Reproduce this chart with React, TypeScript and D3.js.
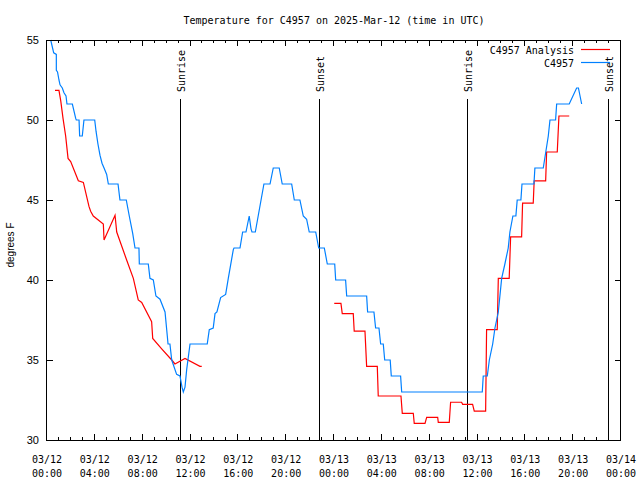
import React from "react";
import * as d3 from "d3";

// Hours since 2025-03-12 00:00 UTC
const blueHours = [0.31, 0.56, 0.78, 0.78, 0.88, 1.0, 1.09, 1.28, 1.42, 1.59, 1.67, 2.12, 2.4, 2.45, 2.68, 2.73, 2.95, 3.09, 3.99, 4.1, 4.26, 4.43, 4.6, 4.77, 4.99, 5.13, 5.94, 6.1, 6.63, 6.88, 7.17, 7.36, 7.69, 7.72, 8.47, 8.61, 8.89, 9.11, 9.45, 9.87, 10.06, 10.12, 10.28, 10.43, 10.84, 11.12, 11.29, 11.4, 11.54, 11.68, 11.96, 13.4, 13.57, 13.9, 14.05, 14.21, 14.52, 14.94, 15.16, 15.58, 15.64, 16.14, 16.36, 16.64, 16.91, 17.06, 17.14, 17.42, 18.14, 18.65, 18.92, 19.42, 19.67, 20.46, 20.68, 21.15, 21.43, 21.71, 21.93, 22.47, 22.72, 23.19, 23.44, 24.06, 24.14, 24.97, 25.06, 26.73, 26.81, 27.34, 27.48, 27.76, 27.9, 28.12, 28.24, 28.7, 28.79, 29.57, 29.66, 36.4, 36.48, 36.82, 36.99, 37.27, 37.46, 37.74, 38.02, 38.29, 38.57, 38.71, 38.96, 39.21, 39.32, 39.63, 39.72, 40.72, 40.8, 41.5, 41.92, 42.06, 42.53, 42.62, 43.67, 44.29, 44.44, 44.71];
const blueTemps = [55.0, 54.2, 54.1, 53.1, 53.0, 52.5, 52.2, 52.0, 51.7, 51.5, 51.0, 51.0, 50.1, 50.0, 50.0, 49.0, 49.0, 50.0, 50.0, 49.3, 48.5, 47.8, 47.3, 47.0, 46.6, 46.0, 46.0, 45.0, 45.0, 44.0, 42.9, 42.0, 42.0, 41.0, 41.0, 40.1, 40.0, 39.0, 38.8, 38.0, 36.5, 36.0, 36.0, 35.0, 34.1, 34.0, 33.3, 33.0, 33.3, 34.4, 36.0, 36.0, 36.9, 37.0, 37.9, 38.0, 38.9, 39.1, 40.1, 41.9, 42.0, 42.0, 43.0, 43.0, 44.0, 43.2, 43.0, 43.0, 46.0, 46.0, 47.0, 47.0, 46.0, 46.0, 45.0, 45.0, 44.0, 43.8, 43.0, 43.0, 42.0, 42.0, 41.0, 41.0, 40.0, 40.0, 39.0, 39.0, 38.0, 38.0, 37.0, 37.0, 36.0, 36.0, 35.0, 35.0, 34.0, 34.0, 33.0, 33.0, 34.0, 34.0, 35.0, 36.0, 37.0, 38.0, 40.1, 41.0, 42.0, 43.0, 44.0, 44.0, 45.0, 45.0, 46.0, 46.0, 47.0, 47.0, 49.0, 50.0, 50.0, 51.0, 51.0, 52.0, 52.0, 51.0];

const redHours1 = [0.67, 1.0, 1.15, 1.34, 1.56, 1.76, 1.98, 2.62, 3.04, 3.51, 3.65, 3.87, 4.71, 4.77, 5.69, 5.83, 6.66, 7.22, 7.63, 7.92, 8.75, 8.84, 9.59, 10.43, 10.7, 11.54, 12.79, 12.94];
const redTemps1 = [51.85, 51.85, 51.2, 50.1, 49.0, 47.6, 47.4, 46.2, 46.1, 44.6, 44.3, 44.0, 43.5, 42.5, 44.05, 43.0, 41.25, 40.1, 38.75, 38.6, 37.4, 36.35, 35.7, 35.0, 34.75, 35.1, 34.6, 34.6];

const redHours2 = [24.02, 24.58, 24.69, 25.61, 25.69, 26.59, 26.73, 27.62, 27.7, 29.6, 29.71, 30.63, 30.71, 31.61, 31.75, 32.67, 32.72, 33.64, 33.75, 34.67, 34.76, 35.59, 35.73, 36.68, 36.76, 37.65, 37.74, 38.65, 38.77, 39.69, 39.77, 40.66, 40.74, 41.7, 41.78, 42.67, 42.81, 43.67];
const redTemps2 = [38.54, 38.54, 37.9, 37.9, 36.8, 36.8, 34.6, 34.6, 32.75, 32.75, 31.67, 31.67, 31.04, 31.04, 31.42, 31.42, 31.1, 31.1, 32.36, 32.36, 32.23, 32.23, 31.8, 31.8, 36.9, 36.9, 40.1, 40.1, 42.7, 42.7, 44.8, 44.8, 46.2, 46.2, 48.0, 48.0, 50.25, 50.25];

const xTickHours = [0, 4, 8, 12, 16, 20, 24, 28, 32, 36, 40, 44, 48];
const xTickDates = ["03/12", "03/12", "03/12", "03/12", "03/12", "03/12", "03/13", "03/13", "03/13", "03/13", "03/13", "03/13", "03/14"];
const xTickTimes = ["00:00", "04:00", "08:00", "12:00", "16:00", "20:00", "00:00", "04:00", "08:00", "12:00", "16:00", "20:00", "00:00"];
const yTicks = [30, 35, 40, 45, 50, 55];

const sunLabels = ["Sunrise", "Sunset", "Sunrise", "Sunset"];
const sunHours = [11.15, 22.77, 35.14, 46.88];

const seriesNames = ["C4957 Analysis", "C4957"];
const seriesColors = ["#ff0000", "#0080ff"];

const W = 640, H = 480;
const L = 47, R = 621, T = 40, B = 440;
const mono = "'DejaVu Sans Mono', monospace";
const sans = "'Liberation Sans', Arial, sans-serif";

export default function App() {
  const x = d3.scaleLinear().domain([0, 48]).range([L, R]);
  const y = d3.scaleLinear().domain([30, 55]).range([B, T]);
  const line = d3.line<[number, number]>().x(d => x(d[0])).y(d => y(d[1]));
  const zip = (a: number[], b: number[]) => a.map((v, i) => [v, b[i]] as [number, number]);
  const minorHours = d3.range(0, 49, 1);

  return (
    <svg width={W} height={H} style={{ position: "fixed", left: 0, top: 0, background: "#fff" }}>
      <rect x={0} y={0} width={W} height={H} fill="#fff" />
      <text x={(L + R) / 2} y={24} textAnchor="middle" fontFamily={mono} fontSize={10}>
        Temperature for C4957 on 2025-Mar-12 (time in UTC)
      </text>
      {/* ticks */}
      {minorHours.map(h => {
        const major = h % 4 === 0;
        const len = major ? 6 : 3;
        const xx = Math.round(x(h)) - 0.5;
        return (
          <g key={"xt" + h}>
            <line x1={xx} x2={xx} y1={B} y2={B - len} stroke="#000" />
            <line x1={xx} x2={xx} y1={T} y2={T + len} stroke="#000" />
          </g>
        );
      })}
      {yTicks.map(v => {
        const yy = Math.round(y(v)) + 0.5;
        return (
          <g key={"yt" + v}>
            <line x1={L} x2={L + 6} y1={yy} y2={yy} stroke="#000" />
            <line x1={R} x2={R - 6} y1={yy} y2={yy} stroke="#000" />
            <text x={39} y={y(v) + 4} textAnchor="end" fontFamily={sans} fontSize={11}>{v}</text>
          </g>
        );
      })}
      {xTickHours.map((h, i) => (
        <g key={"xl" + h}>
          <text x={x(h)} y={463} textAnchor="middle" fontFamily={mono} fontSize={10}>{xTickDates[i]}</text>
          <text x={x(h)} y={477} textAnchor="middle" fontFamily={mono} fontSize={10}>{xTickTimes[i]}</text>
        </g>
      ))}
      <text transform={`translate(14,245) rotate(-90)`} textAnchor="middle" fontFamily={sans} fontSize={10}>degrees F</text>
      {/* sun lines */}
      {sunHours.map((h, i) => {
        const xx = Math.round(x(h)) + 0.5;
        return (
          <g key={"sun" + i}>
            <line x1={xx} x2={xx} y1={99} y2={B} stroke="#000" />
            <text transform={`translate(${xx + 4},92) rotate(-90)`} fontFamily={mono} fontSize={10}>{sunLabels[i]}</text>
          </g>
        );
      })}
      {/* series */}
      <path d={line(zip(redHours1, redTemps1)) || ""} fill="none" stroke={seriesColors[0]} strokeWidth={1.2} />
      <path d={line(zip(redHours2, redTemps2)) || ""} fill="none" stroke={seriesColors[0]} strokeWidth={1.2} />
      <path d={line(zip(blueHours, blueTemps)) || ""} fill="none" stroke={seriesColors[1]} strokeWidth={1.2} />
      {/* legend */}
      {seriesNames.map((n, i) => {
        const ly = 49.5 + i * 13;
        return (
          <g key={"lg" + i}>
            <text x={574} y={ly + 4} textAnchor="end" fontFamily={mono} fontSize={10}>{n}</text>
            <line x1={581} x2={610} y1={ly} y2={ly} stroke={seriesColors[i]} strokeWidth={1.2} />
          </g>
        );
      })}
      {/* frame */}
      <rect x={L - 0.5} y={T + 0.5} width={R - L} height={B - T} fill="none" stroke="#000" />
    </svg>
  );
}
